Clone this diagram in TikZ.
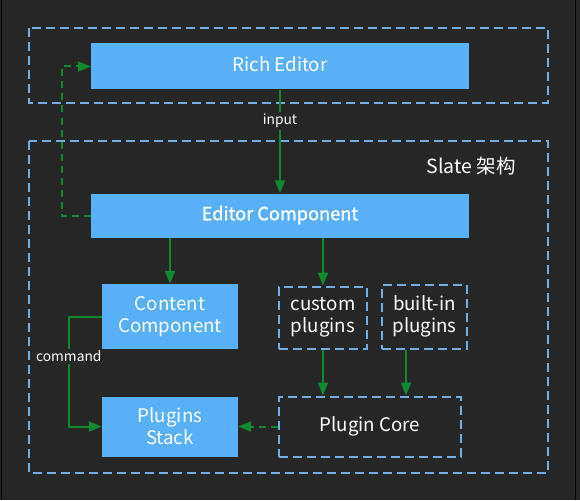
\documentclass[tikz,border=0pt]{standalone}
\usepackage{fontspec}
\setmainfont{Noto Sans CJK SC}
\newfontfamily\medfont[FakeBold=1.2]{Noto Sans CJK SC}
\usetikzlibrary{arrows.meta,calc}
\definecolor{bg}{HTML}{262626}
\definecolor{boxblue}{HTML}{58B0F9}
\definecolor{dashblue}{HTML}{72AEE6}
\definecolor{flowgreen}{HTML}{12892E}
\begin{document}
\begin{tikzpicture}[x=1pt,y=-1pt,
    solidbox/.style={fill=boxblue,text=white,align=center,inner sep=0pt,font=\fontsize{18.7}{22}\selectfont},
    dashbox/.style={draw=dashblue,line width=2pt,dash pattern=on 9pt off 5pt,text=white,align=center,inner sep=0pt,font=\fontsize{18.7}{22}\selectfont},
    oneline/.style={text height=0.95em,text depth=0pt},
    flow/.style={draw=flowgreen,line width=2pt,-{Triangle[length=13pt,width=10pt]}},
    dflow/.style={flow,dash pattern=on 7pt off 5pt},
    tag/.style={fill=bg,text=white,inner sep=2pt,font=\fontsize{13.8}{16}\selectfont}]
  \fill[bg] (0,0) rectangle (580,499);
  \draw[black,line width=1pt] (1.5,0) -- (1.5,499) (575.5,0) -- (575.5,499);
  % frames
  \draw[dashblue,line width=2pt,dash pattern=on 9pt off 5pt] (29,28) rectangle (548,103);
  \draw[dashblue,line width=2pt,dash pattern=on 9pt off 5pt] (29,140) rectangle (548,472);
  \node[text=white,font=\fontsize{19.5}{22}\selectfont] (slate) at (471,166) {Slate 架构};
  % blocks
  \node[solidbox,oneline,minimum width=378pt,minimum height=46pt] (rich) at (280,66) {Rich Editor};
  \node[solidbox,oneline,minimum width=378pt,minimum height=44pt,font=\fontsize{18.2}{22}\selectfont\medfont] (editor) at (280,215) {Editor Component};
  \node[solidbox,minimum width=136pt,minimum height=65pt] (content) at (170,316) {Content\\Component};
  \node[solidbox,minimum width=136pt,minimum height=60pt] (stack) at (170,426) {Plugins\\Stack};
  \node[dashbox,minimum width=88pt,minimum height=62pt] (custom) at (323,317) {custom\\plugins};
  \node[dashbox,minimum width=85pt,minimum height=64pt] (builtin) at (424.5,316) {built-in\\plugins};
  \node[dashbox,oneline,minimum width=182pt,minimum height=60pt] (core) at (370,426) {Plugin Core};
  % connectors
  \draw[flow] (rich.south) -- node[tag,pos=0.3] (input) {input} (editor.north);
  \draw[dflow] (editor.west) -- ++(-29,0) |- (rich.west);
  \draw[flow] (content.north |- editor.south) -- (content.north);
  \draw[flow] (custom.north |- editor.south) -- (custom.north);
  \draw[flow] (custom.south) -- (custom.south |- core.north);
  \draw[flow] ([xshift=-18.5pt]builtin.south) -- ([xshift=-18.5pt]builtin.south |- core.north);
  \draw[dflow] (core.west) -- (stack.east);
  \draw[flow] (content.west) -- ++(-33,0) |- node[tag,pos=0.18] (command) {command} (stack.west);
\end{tikzpicture}
\end{document}
